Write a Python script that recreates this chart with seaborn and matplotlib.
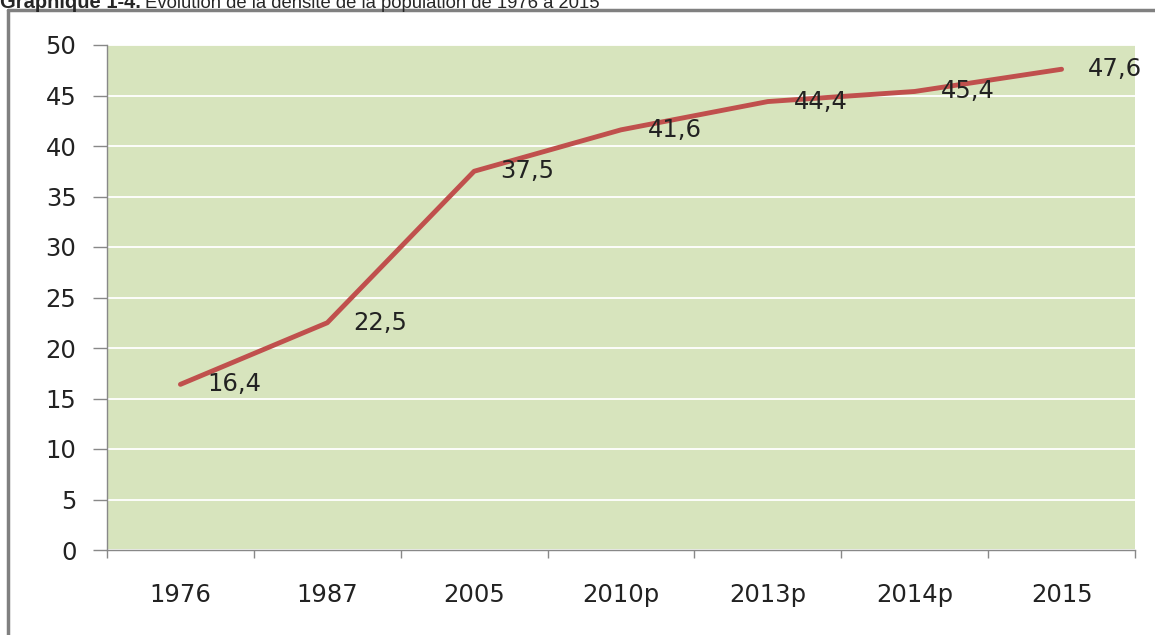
"""Densité de la population de 1976 à 2015 (graphique 1-4)."""

import matplotlib
matplotlib.use("Agg")
import matplotlib.pyplot as plt
from matplotlib.lines import Line2D
import numpy as np
import seaborn as sns

years = ["1976", "1987", "2005", "2010p", "2013p", "2014p", "2015"]
density = [16.4, 22.5, 37.5, 41.6, 44.4, 45.4, 47.6]
y_ticks = [0, 5, 10, 15, 20, 25, 30, 35, 40, 45, 50]

sns.set_theme(style="white")
plt.rcParams["font.family"] = ["DejaVu Sans"]

W, H = 1155, 635
FS = 17.5
fig = plt.figure(figsize=(W / 100, H / 100), dpi=100)
ax = fig.add_axes([107 / W, 1 - 550 / H, (1135 - 107) / W, (550 - 45) / H])
ax.set_facecolor("#D7E4BD")

pos = np.arange(len(years))
sns.lineplot(x=pos, y=density, ax=ax, color="#C0504D", linewidth=3.5,
             solid_capstyle="round")

# data labels to the right of each point
for x, v in zip(pos, density):
    ax.annotate(f"{v:.1f}".replace(".", ","), (x, v), xytext=(19, 0),
                textcoords="offset points", va="center", ha="left",
                fontsize=FS, color="#222222", clip_on=False)

ax.set_xlim(-0.5, len(years) - 0.5)
ax.set_ylim(0, 50)
ax.set_yticks(y_ticks)
ax.yaxis.grid(True, color="white", linewidth=1.3)
ax.set_axisbelow(True)

ax.set_xticks(pos)
ax.set_xticklabels(years)
ax.set_xticks(np.arange(-0.5, len(years), 1), minor=True)
ax.tick_params(axis="x", which="major", length=0, pad=24, labelsize=FS,
               labelcolor="#222222")
ax.tick_params(axis="x", which="minor", length=6, width=1, color="#888888",
               direction="out", bottom=True)
ax.tick_params(axis="y", length=10, width=1, color="#888888", direction="out",
               left=True, pad=12, labelsize=FS, labelcolor="#222222")

for side in ["top", "right"]:
    ax.spines[side].set_visible(False)
for side in ["left", "bottom"]:
    ax.spines[side].set_color("#888888")
    ax.spines[side].set_linewidth(1)
ax.set_xlabel("")
ax.set_ylabel("")

# outer frame (cropped screenshot of a report)
fig.add_artist(Line2D([8 / W, 8 / W], [0, 1 - 10 / H], color="#808080",
                      linewidth=2.5, transform=fig.transFigure))
fig.add_artist(Line2D([8 / W, 1], [1 - 10 / H, 1 - 10 / H], color="#808080",
                      linewidth=2.5, transform=fig.transFigure))

# title, top half cut off in the source image
title_y = 1 - 8 / H
t1 = fig.text(0.0, title_y, "Graphique 1-4.", fontsize=14.5, fontweight="bold",
              ha="left", va="baseline", family=["Liberation Sans"])
fig.canvas.draw()
bb = t1.get_window_extent()
fig.text(bb.x1 / W + 0.004, title_y,
         "Évolution de la densité de la population de 1976 à 2015",
         fontsize=13.3, ha="left", va="baseline", family=["Liberation Sans"])

fig.savefig("out.png", dpi=100)
